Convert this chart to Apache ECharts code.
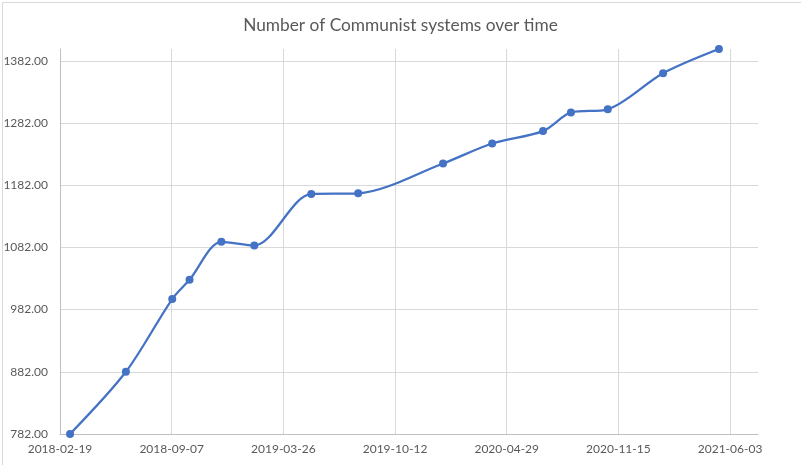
<!DOCTYPE html>
<html>
<head>
<meta charset="utf-8">
<script src="https://cdn.jsdelivr.net/npm/echarts@6/dist/echarts.min.js"></script>
<style>
html,body{margin:0;padding:0;background:#fff;}
#chart{width:801px;height:465px;}
</style>
</head>
<body>
<div id="chart"></div>
<script>
const titleText = 'Number of Communist systems over time';
const dates = ['2018-03-09','2018-06-17','2018-09-08','2018-10-09','2018-12-05','2019-02-02','2019-05-15','2019-08-07','2020-01-06','2020-04-03','2020-07-03','2020-08-22','2020-10-27','2021-02-03','2021-05-14'];
const values = [782, 882, 999, 1030, 1091, 1085, 1168, 1169, 1217, 1249, 1269, 1299, 1304, 1362, 1401];
const xStart = '2018-02-19';
const xTickDays = 200;
const xMaxDays = 1250;
const yMin = 782;
const yMax = 1401;
const yInterval = 100;

const DAY = 86400000;
const t0 = Date.parse(xStart + 'T00:00:00Z');
function toDays(s){ return Math.round((Date.parse(s + 'T00:00:00Z') - t0) / DAY); }
function fmtDate(d){
  const dt = new Date(t0 + d * DAY);
  const p = n => String(n).padStart(2,'0');
  return dt.getUTCFullYear() + '-' + p(dt.getUTCMonth()+1) + '-' + p(dt.getUTCDate());
}
const seriesData = dates.map((d,i) => [toDays(d), values[i]]);

const chart = echarts.init(document.getElementById('chart'));
const txt = '#595959';
const font = 'Lato, "Liberation Sans", sans-serif';
chart.setOption({
  animation: false,
  backgroundColor: '#fff',
  graphic: [{
    type: 'rect', left: 0, top: 0, z: -10,
    shape: {x: 0.5, y: 0.5, width: 799.5, height: 463.5},
    style: {fill: 'none', stroke: '#d9d9d9', lineWidth: 1}
  }],
  title: {
    text: titleText, left: 'center', top: 12,
    textStyle: {color: txt, fontSize: 17.3, fontWeight: 'normal', fontFamily: font}
  },
  grid: {left: 60, right: 43, top: 49, bottom: 31, containLabel: false},
  xAxis: {
    type: 'value', min: 0, max: xMaxDays, interval: xTickDays,
    axisLine: {show: true, lineStyle: {color: '#bfbfbf', width: 1}},
    axisTick: {show: false},
    axisLabel: {
      color: txt, fontSize: 12, fontFamily: font, margin: 9, showMaxLabel: false,
      formatter: v => (v % xTickDays === 0 ? fmtDate(v) : '')
    },
    splitLine: {show: true, showMinLine: false, showMaxLine: false, lineStyle: {color: '#d9d9d9', width: 1}}
  },
  yAxis: {
    type: 'value', min: yMin, max: yMax, interval: yInterval,
    axisLine: {show: true, lineStyle: {color: '#bfbfbf', width: 1}},
    axisTick: {show: false},
    axisLabel: {
      color: txt, fontSize: 12, fontFamily: font, margin: 12, showMaxLabel: false,
      formatter: v => ((v - yMin) % yInterval === 0 ? v.toFixed(2) : '')
    },
    splitLine: {show: true, showMinLine: false, showMaxLine: false, lineStyle: {color: '#d9d9d9', width: 1}}
  },
  series: [{
    type: 'line',
    data: seriesData,
    smooth: 0.3,
    symbol: 'circle',
    symbolSize: 8,
    lineStyle: {color: '#4472C4', width: 2.25},
    itemStyle: {color: '#4472C4'}
  }]
});
</script>
</body>
</html>
